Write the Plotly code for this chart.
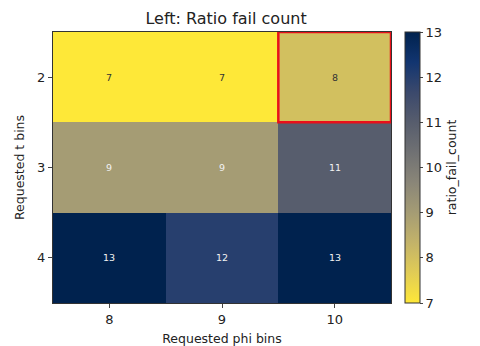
import plotly.graph_objects as go

# ---- Data -------------------------------------------------------------------
phi_bins = [8, 9, 10]
t_bins = [2, 3, 4]
fail_counts = [
    [7, 7, 8],
    [9, 9, 11],
    [13, 12, 13],
]
best_phi, best_t = 10, 2

# ---- Figure -----------------------------------------------------------------
fig = go.Figure()
fig.add_trace(go.Heatmap(
    x=phi_bins,
    y=t_bins,
    z=fail_counts,
    colorscale="cividis",
    reversescale=True,
    zmin=7,
    zmax=13,
    showscale=True,
    colorbar=dict(
        title=dict(text="ratio_fail_count", side="right", font=dict(size=12.5)),
        x=1.041, xanchor="left", y=0.5, yanchor="middle",
        len=1.0, lenmode="fraction", thickness=15, ypad=0, xpad=0,
        outlinewidth=1, outlinecolor="#333",
        tickvals=[7, 8, 9, 10, 11, 12, 13],
        ticks="outside", ticklen=3, tickfont=dict(size=13),
    ),
    hoverinfo="skip",
))

# cell labels
for i, t in enumerate(t_bins):
    for j, p in enumerate(phi_bins):
        v = fail_counts[i][j]
        fig.add_annotation(
            x=p, y=t, text=str(v), showarrow=False,
            font=dict(size=9.5, color="#333333" if v < 9 else "#f2f2f2"),
        )

# highlight best cell
fig.add_shape(
    type="rect", x0=best_phi - 0.5, x1=best_phi + 0.5,
    y0=best_t - 0.5, y1=best_t + 0.5,
    line=dict(color="#e8101a", width=2.5),
)

# page body adds an 8px margin, so the figure is shrunk and shifted to fit
fig.update_layout(
    width=472, height=338,
    margin=dict(l=45, r=89, t=24, b=43, autoexpand=False),
    paper_bgcolor="white", plot_bgcolor="white",
    font=dict(family="DejaVu Sans", color="#222", size=13),
    title=dict(text="Left: Ratio fail count", x=0.462, xanchor="center",
               y=0.97, yanchor="middle", font=dict(size=16)),
)
fig.update_xaxes(
    title=dict(text="Requested phi bins", font=dict(size=12.5), standoff=8),
    tickvals=phi_bins, ticks="outside", ticklen=4, automargin=False,
    range=[7.5, 10.5], showgrid=False, zeroline=False,
    showline=True, linecolor="#333", mirror=True,
)
fig.update_yaxes(
    title=dict(text="Requested t bins", font=dict(size=12.5), standoff=9),
    tickvals=t_bins, ticks="outside", ticklen=4, automargin=False,
    range=[4.5, 1.5], showgrid=False, zeroline=False,
    showline=True, linecolor="#333", mirror=True,
)

fig.write_html("out.html")
